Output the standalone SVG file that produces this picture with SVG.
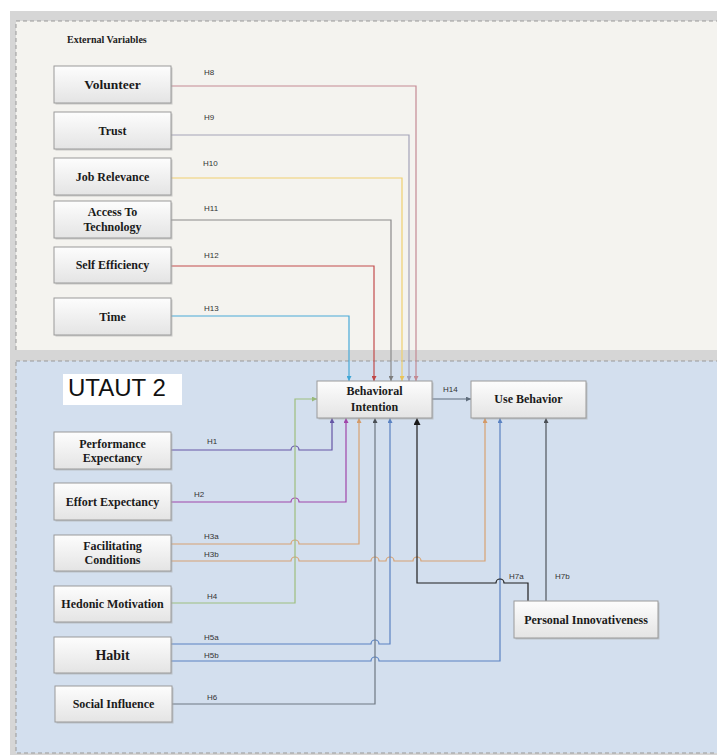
<svg xmlns="http://www.w3.org/2000/svg" width="717" height="755" viewBox="0 0 717 755">
<style>
.bg{fill:#d6d6d6}
.panel{stroke:#999;stroke-width:1;stroke-dasharray:4 3;fill:none}
.sh{fill:#a8a8a8;opacity:.55}
.box{fill:url(#g);stroke:#9a9a9a;stroke-width:1}
.t{font-family:"Liberation Serif","Times New Roman",serif;font-weight:bold;font-size:12px;fill:#1a1a1a;text-anchor:middle}
.h{font-family:"Liberation Sans",Arial,sans-serif;font-size:8px;fill:#333}
.c{fill:none;stroke-width:1.2}
</style>
<defs>
<linearGradient id="g" x1="0" y1="0" x2="0" y2="1"><stop offset="0" stop-color="#fdfdfd"/><stop offset="1" stop-color="#e4e4e4"/></linearGradient>
<marker id="m-pink" markerUnits="userSpaceOnUse" markerWidth="5" markerHeight="5" refX="5" refY="2.5" orient="auto"><path d="M0,0L5,2.5L0,5z" fill="#c48a93"/></marker>
<marker id="m-lav" markerUnits="userSpaceOnUse" markerWidth="5" markerHeight="5" refX="5" refY="2.5" orient="auto"><path d="M0,0L5,2.5L0,5z" fill="#9e9eb6"/></marker>
<marker id="m-yel" markerUnits="userSpaceOnUse" markerWidth="5" markerHeight="5" refX="5" refY="2.5" orient="auto"><path d="M0,0L5,2.5L0,5z" fill="#e8c35a"/></marker>
<marker id="m-gray" markerUnits="userSpaceOnUse" markerWidth="5" markerHeight="5" refX="5" refY="2.5" orient="auto"><path d="M0,0L5,2.5L0,5z" fill="#7d7d7d"/></marker>
<marker id="m-red" markerUnits="userSpaceOnUse" markerWidth="5" markerHeight="5" refX="5" refY="2.5" orient="auto"><path d="M0,0L5,2.5L0,5z" fill="#bf4646"/></marker>
<marker id="m-cyan" markerUnits="userSpaceOnUse" markerWidth="5" markerHeight="5" refX="5" refY="2.5" orient="auto"><path d="M0,0L5,2.5L0,5z" fill="#3fa6d6"/></marker>
<marker id="m-slate" markerUnits="userSpaceOnUse" markerWidth="5" markerHeight="5" refX="5" refY="2.5" orient="auto"><path d="M0,0L5,2.5L0,5z" fill="#5f6d7c"/></marker>
<marker id="m-purple" markerUnits="userSpaceOnUse" markerWidth="5" markerHeight="5" refX="5" refY="2.5" orient="auto"><path d="M0,0L5,2.5L0,5z" fill="#6656a6"/></marker>
<marker id="m-mag" markerUnits="userSpaceOnUse" markerWidth="5" markerHeight="5" refX="5" refY="2.5" orient="auto"><path d="M0,0L5,2.5L0,5z" fill="#a046aa"/></marker>
<marker id="m-org" markerUnits="userSpaceOnUse" markerWidth="5" markerHeight="5" refX="5" refY="2.5" orient="auto"><path d="M0,0L5,2.5L0,5z" fill="#d49a68"/></marker>
<marker id="m-grn" markerUnits="userSpaceOnUse" markerWidth="5" markerHeight="5" refX="5" refY="2.5" orient="auto"><path d="M0,0L5,2.5L0,5z" fill="#98b97a"/></marker>
<marker id="m-blue" markerUnits="userSpaceOnUse" markerWidth="5" markerHeight="5" refX="5" refY="2.5" orient="auto"><path d="M0,0L5,2.5L0,5z" fill="#5a82c2"/></marker>
<marker id="m-dk" markerUnits="userSpaceOnUse" markerWidth="5" markerHeight="5" refX="5" refY="2.5" orient="auto"><path d="M0,0L5,2.5L0,5z" fill="#4a4f55"/></marker>
<marker id="m-blk" markerUnits="userSpaceOnUse" markerWidth="7" markerHeight="7" refX="7" refY="3.5" orient="auto"><path d="M0,0L7,3.5L0,7z" fill="#1a1a1a"/></marker>
</defs>

<rect width="717" height="755" fill="#ffffff"/>
<rect class="bg" x="10" y="11" width="707" height="744"/>
<rect x="16" y="21" width="701" height="329" fill="#f4f3ef"/>
<path class="panel" d="M16,350V21H717"/>
<rect x="16" y="361" width="720" height="392" fill="#d3dfee" class="panel" style="fill:#d3dfee"/>
<text x="67" y="43" style="font-family:'Liberation Serif','Times New Roman',serif;font-weight:bold;font-size:10px;fill:#222">External Variables</text>
<g id="utaut2-label">
<rect x="63" y="374" width="119" height="31" fill="#ffffff"/>
<text x="68" y="396" style="font-family:'Liberation Sans',Arial,sans-serif;font-size:24px;fill:#111">UTAUT 2</text>
</g>

<g id="connectors">
<path class="c" stroke="#c48a93" d="M171,86H416V381" marker-end="url(#m-pink)"/>
<path class="c" stroke="#a3a3b8" d="M171,135H409V381" marker-end="url(#m-lav)"/>
<path class="c" stroke="#efd070" stroke-width="1.6" d="M171,178H402V381" marker-end="url(#m-yel)"/>
<path class="c" stroke="#8a8a8a" d="M171,220H391V381" marker-end="url(#m-gray)"/>
<path class="c" stroke="#c24c4c" stroke-width="1.5" d="M171,266H374V381" marker-end="url(#m-red)"/>
<path class="c" stroke="#48aad8" d="M171,316H349V381" marker-end="url(#m-cyan)"/>
<path class="c" stroke="#5f6d7c" d="M432,399H471" marker-end="url(#m-slate)"/>
<path class="c" stroke="#6656a6" d="M171,450H291a4,4 0 0 1 8,0H332V418" marker-end="url(#m-purple)"/>
<path class="c" stroke="#a046aa" d="M171,502H291a4,4 0 0 1 8,0H346V418" marker-end="url(#m-mag)"/>
<path class="c" stroke="#d8a272" d="M171,544H291a4,4 0 0 1 8,0H359V418" marker-end="url(#m-org)"/>
<path class="c" stroke="#d8a272" d="M171,561H291a4,4 0 0 1 8,0H371a4,4 0 0 1 8,0H386a4,4 0 0 1 8,0H413a4,4 0 0 1 8,0H485V418" marker-end="url(#m-org)"/>
<path class="c" stroke="#9dbf7e" d="M171,603H295V399H317" marker-end="url(#m-grn)"/>
<path class="c" stroke="#5a82c2" d="M171,644H371a4,4 0 0 1 8,0H390V418" marker-end="url(#m-blue)"/>
<path class="c" stroke="#5a82c2" d="M171,661H371a4,4 0 0 1 8,0H500V418" marker-end="url(#m-blue)"/>
<path class="c" stroke="#6e7882" d="M171,704H375V418" marker-end="url(#m-dk)"/>
<path class="c" stroke="#1e1e1e" stroke-width="1.5" d="M528,601V583H504a4,4 0 0 0 -8,0H417V418" marker-end="url(#m-blk)"/>
<path class="c" stroke="#4f555c" d="M546,601V418" marker-end="url(#m-dk)"/>
</g>

<g id="labels">
<text class="h" x="204" y="75">H8</text>
<text class="h" x="204" y="120">H9</text>
<text class="h" x="203" y="166">H10</text>
<text class="h" x="204" y="211">H11</text>
<text class="h" x="204" y="258">H12</text>
<text class="h" x="204" y="311">H13</text>
<text class="h" x="443" y="392">H14</text>
<text class="h" x="207" y="444">H1</text>
<text class="h" x="194" y="497">H2</text>
<text class="h" x="204" y="539">H3a</text>
<text class="h" x="204" y="557">H3b</text>
<text class="h" x="207" y="599">H4</text>
<text class="h" x="204" y="640">H5a</text>
<text class="h" x="204" y="658">H5b</text>
<text class="h" x="207" y="700">H6</text>
<text class="h" x="509" y="579">H7a</text>
<text class="h" x="555" y="579">H7b</text>
</g>

<g id="volunteer"><rect class="sh" x="55.5" y="67.5" width="117" height="37"/><rect class="box" x="54" y="66" width="117" height="37"/><text class="t" x="112.5" y="89" style="font-size:13.5px">Volunteer</text></g>
<g id="trust"><rect class="sh" x="55.5" y="113.5" width="117" height="37"/><rect class="box" x="54" y="112" width="117" height="37"/><text class="t" x="112.5" y="135">Trust</text></g>
<g id="job-relevance"><rect class="sh" x="55.5" y="159.5" width="117" height="37"/><rect class="box" x="54" y="158" width="117" height="37"/><text class="t" x="112.5" y="181">Job Relevance</text></g>
<g id="access-to-technology"><rect class="sh" x="55.5" y="202.5" width="117" height="37"/><rect class="box" x="54" y="201" width="117" height="37"/><text class="t" x="112.5" y="216">Access To</text><text class="t" x="112.5" y="231">Technology</text></g>
<g id="self-efficiency"><rect class="sh" x="55.5" y="248.5" width="117" height="36"/><rect class="box" x="54" y="247" width="117" height="36"/><text class="t" x="112.5" y="269">Self Efficiency</text></g>
<g id="time"><rect class="sh" x="55.5" y="299.5" width="117" height="37"/><rect class="box" x="54" y="298" width="117" height="37"/><text class="t" x="112.5" y="321">Time</text></g>

<g id="performance-expectancy"><rect class="sh" x="55.5" y="433.5" width="117" height="37"/><rect class="box" x="54" y="432" width="117" height="37"/><text class="t" x="112.5" y="448">Performance</text><text class="t" x="112.5" y="462">Expectancy</text></g>
<g id="effort-expectancy"><rect class="sh" x="55.5" y="484.5" width="117" height="37"/><rect class="box" x="54" y="483" width="117" height="37"/><text class="t" x="112.5" y="506">Effort Expectancy</text></g>
<g id="facilitating-conditions"><rect class="sh" x="55.5" y="536.5" width="117" height="36"/><rect class="box" x="54" y="535" width="117" height="36"/><text class="t" x="112.5" y="550">Facilitating</text><text class="t" x="112.5" y="564">Conditions</text></g>
<g id="hedonic-motivation"><rect class="sh" x="55.5" y="587.5" width="117" height="36"/><rect class="box" x="54" y="586" width="117" height="36"/><text class="t" x="112.5" y="608">Hedonic Motivation</text></g>
<g id="habit"><rect class="sh" x="55.5" y="638.5" width="117" height="36"/><rect class="box" x="54" y="637" width="117" height="36"/><text class="t" x="112.5" y="660" style="font-size:14px">Habit</text></g>
<g id="social-influence"><rect class="sh" x="56.5" y="687.5" width="117" height="36"/><rect class="box" x="55" y="686" width="117" height="36"/><text class="t" x="113.5" y="708">Social Influence</text></g>

<g id="behavioral-intention"><rect class="sh" x="318.5" y="382.5" width="115" height="37"/><rect class="box" x="317" y="381" width="115" height="37"/><text class="t" x="374.5" y="395">Behavioral</text><text class="t" x="374.5" y="411">Intention</text></g>
<g id="use-behavior"><rect class="sh" x="472.5" y="382.5" width="115" height="37"/><rect class="box" x="471" y="381" width="115" height="37"/><text class="t" x="528.5" y="403">Use Behavior</text></g>
<g id="personal-innovativeness"><rect class="sh" x="515.5" y="602.5" width="144" height="37"/><rect class="box" x="514" y="601" width="144" height="37"/><text class="t" x="586" y="624">Personal Innovativeness</text></g>
</svg>
